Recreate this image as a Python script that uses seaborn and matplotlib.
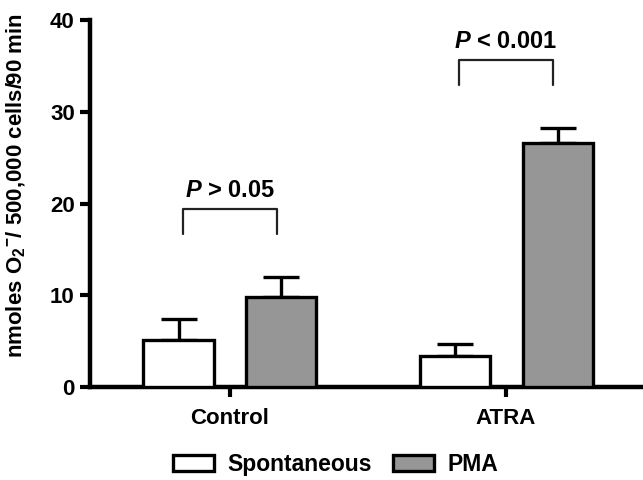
import matplotlib
matplotlib.use('Agg')
import numpy as np
import pandas as pd
import seaborn as sns
from matplotlib import pyplot as plt

# values
groups = ['Control', 'ATRA']
treatments = ['Spontaneous', 'PMA']
spontaneous = [5.1, 3.35]
pma = [9.85, 26.6]
spontaneous_err = [2.3, 1.35]
pma_err = [2.15, 1.65]
yticks = [0, 10, 20, 30, 40]
p_labels = [r'$\mathit{P}$ > 0.05', r'$\mathit{P}$ < 0.001']

sns.set_style('ticks')
plt.rcParams['font.family'] = ['Liberation Sans', 'DejaVu Sans']
plt.rcParams['font.weight'] = 'bold'
plt.rcParams['text.color'] = 'black'
plt.rcParams['axes.labelcolor'] = 'black'
plt.rcParams['xtick.color'] = 'black'
plt.rcParams['ytick.color'] = 'black'
plt.rcParams['mathtext.fontset'] = 'custom'
plt.rcParams['mathtext.rm'] = 'Liberation Sans:bold'
plt.rcParams['mathtext.bf'] = 'Liberation Sans:bold'
plt.rcParams['mathtext.it'] = 'Liberation Sans:italic:bold'
plt.rcParams['mathtext.default'] = 'bf'

df = pd.DataFrame({
    'group': groups * 2,
    'treatment': [treatments[0]] * 2 + [treatments[1]] * 2,
    'value': spontaneous + pma,
    'err': spontaneous_err + pma_err,
})

fig = plt.figure(figsize=(6.43, 4.8), dpi=100)
ax = fig.add_axes([0.14, 0.194, 0.86, 0.764])

sns.barplot(data=df, x='group', y='value', hue='treatment', order=groups,
            hue_order=treatments, palette=['white', '#969696'],
            edgecolor='black', linewidth=2.4, width=0.746, gap=0.32,
            errorbar=None, ax=ax, zorder=3)

# one-sided error bars on top of each bar
centers = {}
for cont, tr in zip(ax.containers, treatments):
    sub = df[df.treatment == tr].set_index('group').loc[groups]
    xs = [p.get_x() + p.get_width() / 2 for p in cont.patches]
    centers[tr] = xs
    ax.errorbar(xs, sub['value'], yerr=[np.zeros(len(xs)), sub['err']],
                fmt='none', ecolor='black', elinewidth=2.4, capsize=13,
                capthick=2.4, zorder=2)

# significance brackets
for i, lab in enumerate(p_labels):
    x1 = centers['Spontaneous'][i] + 0.015
    x2 = centers['PMA'][i] - 0.015
    top = max(spontaneous[i] + spontaneous_err[i], pma[i] + pma_err[i]) + 7.4
    ax.plot([x1, x1, x2, x2], [top - 2.7, top, top, top - 2.7],
            color='#222222', lw=1.6, clip_on=False)
    ax.text((x1 + x2) / 2, top + 2.0, lab, ha='center', va='center',
            fontsize=17, fontweight='bold')

ax.set_ylim(0, 40)
ax.set_xlim(-0.507, 1.496)
ax.set_yticks(yticks)
ax.set_xlabel('')
ax.set_ylabel(r'nmoles O$_2$$^{-}$/ 500,000 cells/90 min', fontsize=16,
              fontweight='bold')
ax.yaxis.set_label_coords(-0.113, 0.55)
ax.tick_params(axis='both', width=3, length=7, labelsize=16)
ax.tick_params(axis='y', pad=4)
ax.tick_params(axis='x', pad=8)
for lab in ax.get_xticklabels() + ax.get_yticklabels():
    lab.set_fontweight('bold')
for s in ['left', 'bottom']:
    ax.spines[s].set_linewidth(3.2)
    ax.spines[s].set_color('black')
sns.despine(ax=ax)

handles, labels = ax.get_legend_handles_labels()
ax.legend_.remove()
fig.legend(handles, labels, loc='lower center', bbox_to_anchor=(0.522, -0.035),
           ncol=2, frameon=False, fontsize=16.5, handlelength=1.8,
           handleheight=0.7, handletextpad=0.6, columnspacing=0.9)

fig.savefig('out.png', dpi=100)
